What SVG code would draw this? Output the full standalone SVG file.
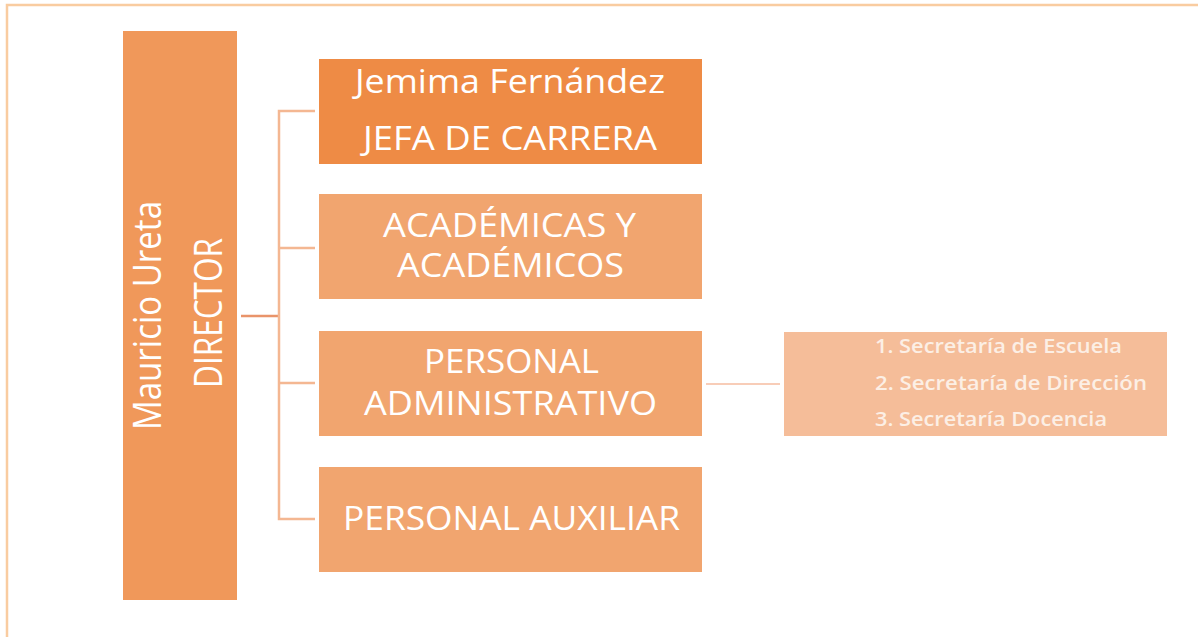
<svg xmlns="http://www.w3.org/2000/svg" width="1198" height="637" viewBox="0 0 1198 637">
<style>
.t{font-family:"Open Sans","Liberation Sans",sans-serif;fill:#ffffff;}
.big{font-size:32px;text-anchor:middle;}
.dir{font-size:39px;text-anchor:middle;}
.sm{font-size:19px;font-weight:600;fill:#fcefe5;}
.conn{fill:none;stroke:#f4b792;stroke-width:2.5;}
</style>
<rect width="1198" height="637" fill="#ffffff"/>
<polyline points="7,637 7,5 1198,5" fill="none" stroke="#f9cca0" stroke-width="2.5"/>
<g id="connectors">
<line x1="241" y1="316" x2="279" y2="316" stroke="#e9946a" stroke-width="2.5"/>
<polyline class="conn" points="315,111 279,111 279,519 315,519"/>
<line class="conn" x1="279" y1="248" x2="315" y2="248"/>
<line class="conn" x1="279" y1="383" x2="315" y2="383"/>
<line x1="706" y1="384" x2="780" y2="384" stroke="#f8cdb8" stroke-width="2"/>
</g>
<g id="director">
<rect x="123" y="31" width="114" height="569" fill="#f0985a"/>
<text class="t dir" transform="translate(161,315.5) rotate(-90)" textLength="229" lengthAdjust="spacingAndGlyphs">Mauricio Ureta</text>
<text class="t dir" transform="translate(222,313) rotate(-90)" textLength="150" lengthAdjust="spacingAndGlyphs">DIRECTOR</text>
</g>
<g id="jefa">
<rect x="319" y="59" width="383" height="105" fill="#ee8b45"/>
<text class="t big" x="510" y="93" textLength="310" lengthAdjust="spacingAndGlyphs">Jemima Fernández</text>
<text class="t big" x="510" y="150" textLength="294" lengthAdjust="spacingAndGlyphs">JEFA DE CARRERA</text>
</g>
<g id="academicos">
<rect x="319" y="194" width="383" height="105" fill="#f1a56f"/>
<text class="t big" x="509.5" y="237" textLength="253" lengthAdjust="spacingAndGlyphs">ACADÉMICAS Y</text>
<text class="t big" x="510.5" y="277" textLength="227" lengthAdjust="spacingAndGlyphs">ACADÉMICOS</text>
</g>
<g id="administrativo">
<rect x="319" y="331" width="383" height="105" fill="#f1a56f"/>
<text class="t big" x="511.5" y="373" textLength="175" lengthAdjust="spacingAndGlyphs">PERSONAL</text>
<text class="t big" x="510.5" y="415" textLength="293" lengthAdjust="spacingAndGlyphs">ADMINISTRATIVO</text>
</g>
<g id="auxiliar">
<rect x="319" y="467" width="383" height="105" fill="#f1a56f"/>
<text class="t big" x="511.5" y="530" textLength="337" lengthAdjust="spacingAndGlyphs">PERSONAL AUXILIAR</text>
</g>
<g id="secretarias">
<rect x="784" y="332" width="383" height="104" fill="#f5bd99"/>
<text class="t sm" x="875" y="353" textLength="247" lengthAdjust="spacingAndGlyphs">1. Secretaría de Escuela</text>
<text class="t sm" x="875" y="390" textLength="272" lengthAdjust="spacingAndGlyphs">2.  Secretaría de Dirección</text>
<text class="t sm" x="875" y="426" textLength="232" lengthAdjust="spacingAndGlyphs">3. Secretaría Docencia</text>
</g>
</svg>
